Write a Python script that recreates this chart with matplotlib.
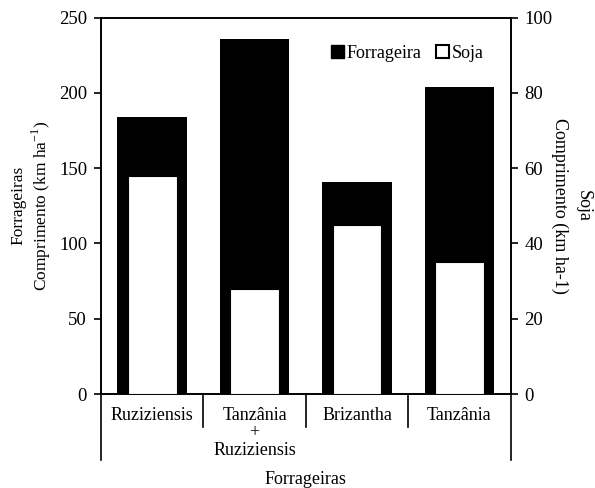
import numpy as np
import matplotlib.pyplot as plt
from matplotlib.patches import Patch

plt.rcParams['font.family'] = ['Liberation Serif', 'DejaVu Serif']
plt.rcParams['font.size'] = 13

categorias = ["Ruziziensis", "Tanzânia\n+\nRuziziensis", "Brizantha", "Tanzânia"]
forrageira = [184, 236, 141, 204]
soja = [58, 28, 45, 35]

x = np.arange(len(categorias))

fig = plt.figure(figsize=(5.95, 4.88), dpi=100)
ax = fig.add_axes([0.1697, 0.1926, 0.6886, 0.7711])
ax2 = ax.twinx()

ax.bar(x, forrageira, width=0.68, color="black", zorder=2)
ax2.bar(x, soja, width=0.475, color="white", edgecolor="black", linewidth=0.8, zorder=3)

ax.set_xlim(-0.5, 3.5)
ax.set_ylim(0, 250)
ax2.set_ylim(0, 100)
ax.set_yticks([0, 50, 100, 150, 200, 250])
ax2.set_yticks([0, 20, 40, 60, 80, 100])

for a in (ax, ax2):
    for s in a.spines.values():
        s.set_linewidth(1.2)
    a.tick_params(axis='y', direction='out', length=5, width=1.2, pad=5, labelsize=13.5)

ax.set_xticks(x)
ax.set_xticklabels(categorias, linespacing=1.05)
ax.tick_params(axis='x', length=0, pad=9)

# separadores abaixo do eixo x
trans = ax.get_xaxis_transform()
for b in [0.5, 1.5, 2.5]:
    ax.plot([b, b], [0, -0.088], color="black", lw=1.2, transform=trans, clip_on=False)
for b in [-0.5, 3.5]:
    ax.plot([b, b], [0, -0.175], color="black", lw=1.2, transform=trans, clip_on=False)

ax.text(0.5, -0.228, "Forrageiras", transform=ax.transAxes, ha="center", va="center")

ax.set_ylabel("Forrageiras\nComprimento (km ha$^{\\mathregular{-1}}$)", fontsize=12.5, labelpad=4)
ax.text(1.148, 0.5, "Soja\nComprimento (km ha-1)", transform=ax.transAxes,
        rotation=270, ha="center", va="center", fontsize=13, linespacing=1.5)

handles = [Patch(facecolor="black", edgecolor="black"),
           Patch(facecolor="white", edgecolor="black", linewidth=1.5)]
ax2.legend(handles, ["Forrageira", "Soja"], ncol=2, frameon=False,
           loc="center right", bbox_to_anchor=(0.955, 0.906),
           handlelength=0.7, handleheight=0.7, handletextpad=0.15,
           columnspacing=0.8, borderpad=0)

fig.savefig("out.png", dpi=100)
